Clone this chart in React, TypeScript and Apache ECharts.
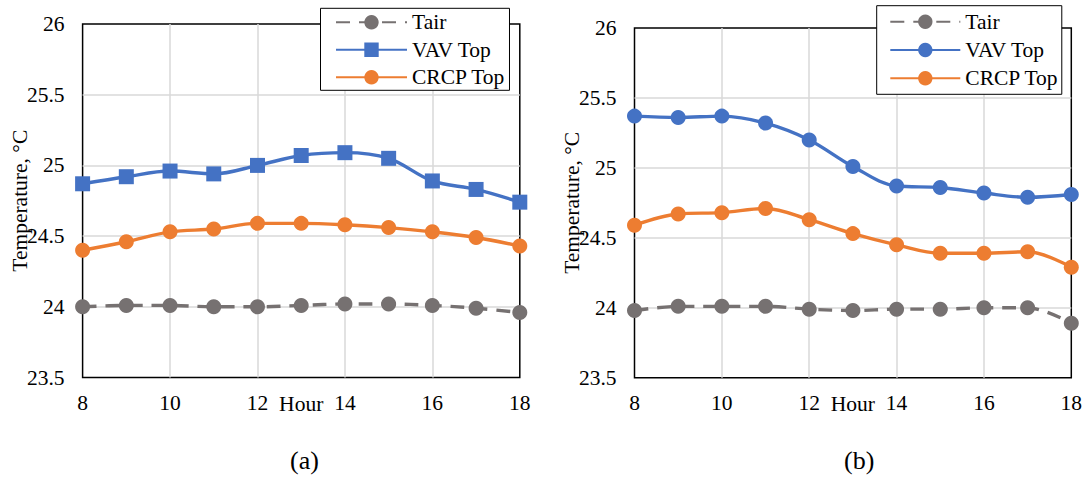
import React, { useEffect, useRef } from "react";
import * as echarts from "echarts";

// Hour of day
const hours = [8, 9, 10, 11, 12, 13, 14, 15, 16, 17, 18];

// Panel (a)
const tairA = [24.0, 24.01, 24.01, 24.0, 24.0, 24.01, 24.02, 24.02, 24.01, 23.99, 23.96];
const vavA = [24.87, 24.92, 24.96, 24.94, 25.0, 25.07, 25.09, 25.05, 24.89, 24.83, 24.74];
const crcpA = [24.4, 24.46, 24.53, 24.55, 24.59, 24.59, 24.58, 24.56, 24.53, 24.49, 24.43];

// Panel (b)
const tairB = [23.98, 24.01, 24.01, 24.01, 23.99, 23.98, 23.99, 23.99, 24.0, 24.0, 23.89];
const vavB = [25.37, 25.36, 25.37, 25.32, 25.2, 25.01, 24.87, 24.86, 24.82, 24.79, 24.81];
const crcpB = [24.59, 24.67, 24.68, 24.71, 24.63, 24.53, 24.45, 24.39, 24.39, 24.4, 24.29];

const seriesNames = ["Tair", "VAV Top", "CRCP Top"];
const yRange = [23.5, 26];
const yStep = 0.5;
const xRange = [8, 18];
const xStep = 2;
const xAxisTitle = "Hour";
const yAxisTitle = "Temperature, °C";

const FONT = "'Liberation Serif', 'Times New Roman', serif";
const FS = 21.5;
const GRAY = "#767171";
const BLUE = "#4472C4";
const ORANGE = "#ED7D31";

type PanelProps = {
  left: number;
  caption: string;
  tair: number[];
  vav: number[];
  crcp: number[];
  vavSymbol: string;
  grid: { left: number; top: number; width: number; height: number };
  legend: { left: number; top: number; padding: number[]; itemGap: number; itemWidth: number };
  captionX: number;
};

const pairs = (vals: number[]) => hours.map((h, i) => [h, vals[i]]);

function Panel(p: PanelProps) {
  const ref = useRef<HTMLDivElement>(null);
  useEffect(() => {
    if (!ref.current) return;
    const chart = echarts.init(ref.current, undefined, { renderer: "svg" });
    const lineSeries = (name: string, data: number[], color: string, symbol: string, dashed: boolean) => ({
      type: "line",
      name,
      data: pairs(data),
      smooth: 0.35,
      symbol,
      symbolSize: 15,
      itemStyle: { color },
      lineStyle: { color, width: 3.4, type: dashed ? [14, 9] : "solid" },
      z: 3,
    });
    const text = { fontFamily: FONT, fontSize: FS, color: "#000" };
    chart.setOption({
      animation: false,
      grid: {
        ...p.grid,
        containLabel: false,
        outerBoundsMode: "none",
        show: true,
        borderColor: "#000",
        borderWidth: 1.5,
        backgroundColor: "transparent",
      },
      xAxis: {
        type: "value",
        min: xRange[0],
        max: xRange[1],
        interval: xStep,
        name: xAxisTitle,
        nameLocation: "middle",
        nameGap: 15,
        nameMoveOverlap: false,
        nameTextStyle: { ...text, verticalAlign: "top" },
        axisLine: { show: false },
        axisTick: { show: false },
        axisLabel: { ...text, margin: 14 },
        splitLine: {
          show: true,
          showMinLine: false,
          showMaxLine: false,
          lineStyle: { color: "#D9D9D9", width: 1.5 },
        },
      },
      yAxis: {
        type: "value",
        min: yRange[0],
        max: yRange[1],
        interval: yStep,
        name: yAxisTitle,
        nameLocation: "middle",
        nameGap: 52,
        nameMoveOverlap: false,
        nameTextStyle: text,
        axisLine: { show: false },
        axisTick: { show: false },
        axisLabel: { ...text, margin: 18 },
        splitLine: {
          show: true,
          showMinLine: false,
          showMaxLine: false,
          lineStyle: { color: "#D9D9D9", width: 1.5 },
        },
      },
      legend: {
        data: seriesNames,
        orient: "vertical",
        left: p.legend.left,
        top: p.legend.top,
        padding: p.legend.padding,
        itemGap: p.legend.itemGap,
        itemWidth: p.legend.itemWidth,
        itemHeight: 18,
        backgroundColor: "#fff",
        borderColor: "#000",
        borderWidth: 1,
        selectedMode: false,
        textStyle: text,
        z: 10,
      },
      graphic: [
        {
          type: "text",
          left: p.captionX - 15,
          top: 447,
          style: {
            text: p.caption,
            fontFamily: FONT,
            fontSize: 26,
            fill: "#000",
          },
        },
      ],
      series: [
        lineSeries(seriesNames[0], p.tair, GRAY, "circle", true),
        lineSeries(seriesNames[1], p.vav, BLUE, p.vavSymbol, false),
        lineSeries(seriesNames[2], p.crcp, ORANGE, "circle", false),
      ],
    });
    return () => chart.dispose();
  }, []);
  return (
    <div
      ref={ref}
      style={{ position: "absolute", left: p.left, top: 0, width: 544, height: 480 }}
    />
  );
}

export default function App() {
  return (
    <div style={{ position: "fixed", left: 0, top: 0, width: 1088, height: 480, background: "#fff" }}>
      <Panel
        left={0}
        caption="(a)"
        tair={tairA}
        vav={vavA}
        crcp={crcpA}
        vavSymbol="rect"
        grid={{ left: 82.6, top: 24, width: 437.2, height: 353.5 }}
        legend={{ left: 320.5, top: 8.3, padding: [3, 4, 2, 14.5], itemGap: 5.5, itemWidth: 71 }}
        captionX={305}
      />
      <Panel
        left={544}
        caption="(b)"
        tair={tairB}
        vav={vavB}
        crcp={crcpB}
        vavSymbol="circle"
        grid={{ left: 90.5, top: 28, width: 436.8, height: 349.7 }}
        legend={{ left: 332.7, top: 5.7, padding: [5, 3, 5, 12.6], itemGap: 6.3, itemWidth: 70 }}
        captionX={315}
      />
    </div>
  );
}
